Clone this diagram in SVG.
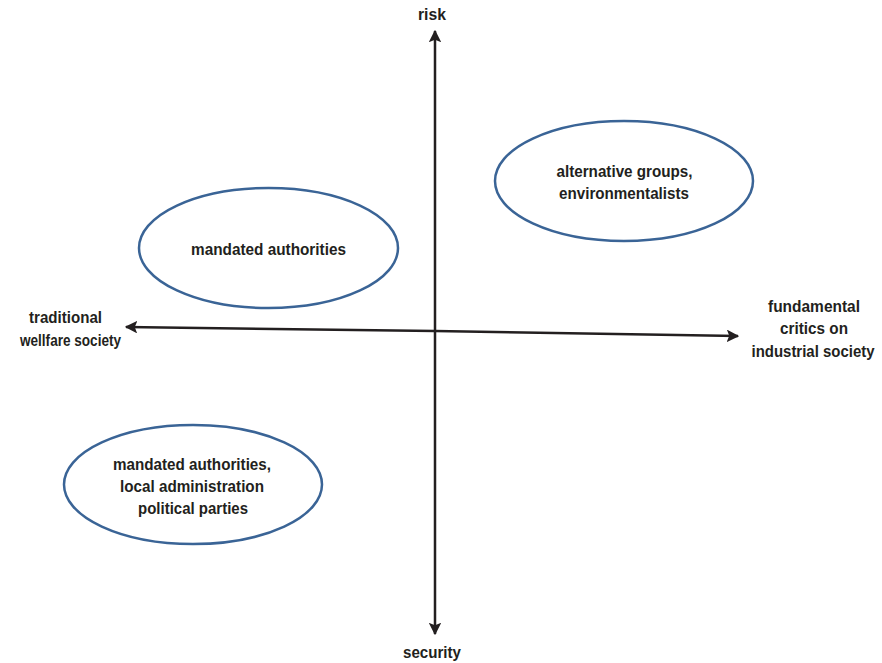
<svg xmlns="http://www.w3.org/2000/svg" width="882" height="663" viewBox="0 0 882 663">
<style>
text{font-family:"Liberation Sans Narrow","Liberation Sans",Arial,sans-serif;font-weight:bold;font-size:17px;fill:#231f20;text-anchor:middle}
.node ellipse{fill:#fff;stroke:#3a6496;stroke-width:2.5}
.axis{stroke:#231f20;stroke-width:2.5;fill:none}
</style>
<defs>
<marker id="ah" viewBox="0 0 10 10" refX="9" refY="5" markerWidth="5" markerHeight="5" orient="auto" markerUnits="strokeWidth">
<path d="M0,0 L10,5 L0,10 L2,5 z" fill="#231f20"/>
</marker>
</defs>
<rect width="882" height="663" fill="#fff"/>
<g id="connectors">
<line class="axis" x1="435" y1="330" x2="435" y2="31" marker-end="url(#ah)"/>
<line class="axis" x1="435" y1="330" x2="435" y2="634" marker-end="url(#ah)"/>
<line class="axis" x1="435" y1="331" x2="126" y2="327" marker-end="url(#ah)"/>
<line class="axis" x1="435" y1="331" x2="738" y2="336" marker-end="url(#ah)"/>
</g>
<g id="label-risk"><text x="432" y="20" textLength="28" lengthAdjust="spacingAndGlyphs">risk</text></g>
<g id="label-security"><text x="432" y="658" textLength="58" lengthAdjust="spacingAndGlyphs">security</text></g>
<g id="label-traditional"><text x="65.5" y="323" textLength="73" lengthAdjust="spacingAndGlyphs">traditional</text><text x="70.5" y="346" textLength="101" lengthAdjust="spacingAndGlyphs">wellfare society</text></g>
<g id="label-fundamental"><text x="814" y="312" textLength="92" lengthAdjust="spacingAndGlyphs">fundamental</text><text x="814" y="334" textLength="68" lengthAdjust="spacingAndGlyphs">critics on</text><text x="813" y="357" textLength="123" lengthAdjust="spacingAndGlyphs">industrial society</text></g>
<g id="node-alternative" class="node">
<ellipse cx="624" cy="181" rx="129" ry="60"/>
<text x="624.5" y="177" textLength="136" lengthAdjust="spacingAndGlyphs">alternative groups,</text>
<text x="624" y="199" textLength="130" lengthAdjust="spacingAndGlyphs">environmentalists</text>
</g>
<g id="node-mandated" class="node">
<ellipse cx="268.5" cy="248" rx="129.5" ry="60"/>
<text x="268.5" y="255" textLength="155" lengthAdjust="spacingAndGlyphs">mandated authorities</text>
</g>
<g id="node-local" class="node">
<ellipse cx="193" cy="484.5" rx="129" ry="59.5"/>
<text x="192" y="470" textLength="158" lengthAdjust="spacingAndGlyphs">mandated authorities,</text>
<text x="192" y="492" textLength="144" lengthAdjust="spacingAndGlyphs">local administration</text>
<text x="193" y="514" textLength="110" lengthAdjust="spacingAndGlyphs">political parties</text>
</g>
</svg>
